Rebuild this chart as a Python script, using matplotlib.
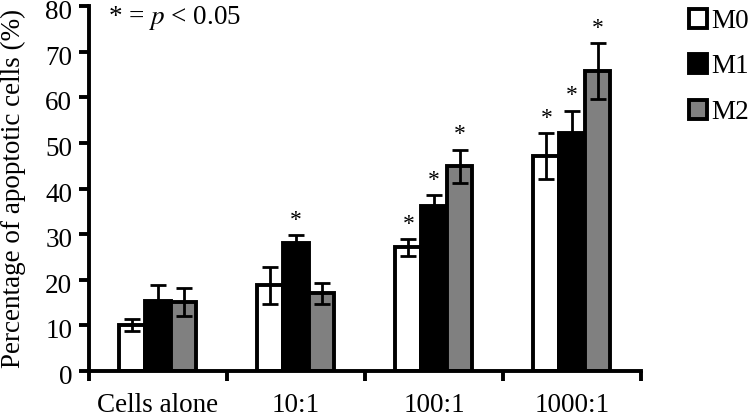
import numpy as np
import matplotlib
matplotlib.use("Agg")
import matplotlib.pyplot as plt
import matplotlib.transforms as mtransforms
from matplotlib.patches import Patch

plt.rcParams['font.family'] = ['Liberation Serif', 'DejaVu Serif']
plt.rcParams['mathtext.fontset'] = 'stix'

categories = ["Cells alone", "10:1", "100:1", "1000:1"]
series = ["M0", "M1", "M2"]
colors = ["white", "black", "#808080"]

m0 = [10.1, 18.8, 27.1, 47.1]
m1 = [15.3, 28.1, 36.2, 52.2]
m2 = [15.1, 17.0, 44.9, 65.7]
m0_err = [1.3, 4.1, 1.8, 5.0]
m1_err = [3.5, 1.6, 2.3, 4.9]
m2_err = [3.0, 2.3, 3.6, 6.1]

# significance marks (True = p < 0.05)
m0_sig = [False, False, True, True]
m1_sig = [False, True, True, True]
m2_sig = [False, False, True, True]

values = [m0, m1, m2]
errors = [m0_err, m1_err, m2_err]
sigs = [m0_sig, m1_sig, m2_sig]

fs = 19.5

fig = plt.figure(figsize=(7.53, 4.19), dpi=100)
ax = fig.add_axes([0.1182, 0.1146, 0.733, 0.871])

x = np.arange(len(categories)) + 0.5
width = 0.186
offsets = [-width, 0, width]

for vals, errs, sig, col, off in zip(values, errors, sigs, colors, offsets):
    ax.bar(x + off, vals, width, color=col, edgecolor='black', linewidth=2.8,
           zorder=2)
    ax.errorbar(x + off, vals, yerr=errs, fmt='none', ecolor='black',
                elinewidth=2, capsize=6, capthick=2, zorder=3)
    for xi, v, e, s in zip(x + off, vals, errs, sig):
        if s:
            ax.text(xi, v + e + 1.0, "*", ha='center', va='bottom',
                    fontsize=17)

ax.set_xlim(0, 4)
ax.set_ylim(0, 80)
ax.set_yticks(np.arange(0, 81, 10))
ax.set_xticks([0, 1, 2, 3, 4])
ax.set_xticklabels([])
ax.set_xticks(x, minor=True)
ax.set_xticklabels(categories, minor=True)
ax.tick_params(axis='x', which='minor', length=0, pad=16, labelsize=fs)
ax.tick_params(axis='x', which='major', direction='out', length=7, width=2.8)
ax.tick_params(axis='y', direction='out', length=7, width=2.8, labelsize=fs,
               pad=5)

# tick labels sit a little below their ticks in the original
shift = mtransforms.ScaledTranslation(0, -0.035, fig.dpi_scale_trans)
for lab in ax.get_yticklabels():
    lab.set_transform(lab.get_transform() + shift)

for side in ['top', 'right']:
    ax.spines[side].set_visible(False)
for side in ['left', 'bottom']:
    ax.spines[side].set_linewidth(2.8)

ax.set_ylabel("Percentage of apoptotic cells (%)", fontsize=fs)
ax.yaxis.set_label_coords(-0.115, 0.5)

ax.text(0.035, 0.968, r"* = $p$ < 0.05", transform=ax.transAxes,
        fontsize=fs, va='center', ha='left')

handles = [Patch(facecolor=c, edgecolor='black', linewidth=2.8) for c in colors]
fig.legend(handles, series, loc='upper left', bbox_to_anchor=(0.9, 1.005),
           frameon=False, fontsize=fs, handlelength=0.7, handleheight=0.7,
           handletextpad=0.15, labelspacing=0.76, borderaxespad=0)

fig.savefig("out.png", dpi=100)
